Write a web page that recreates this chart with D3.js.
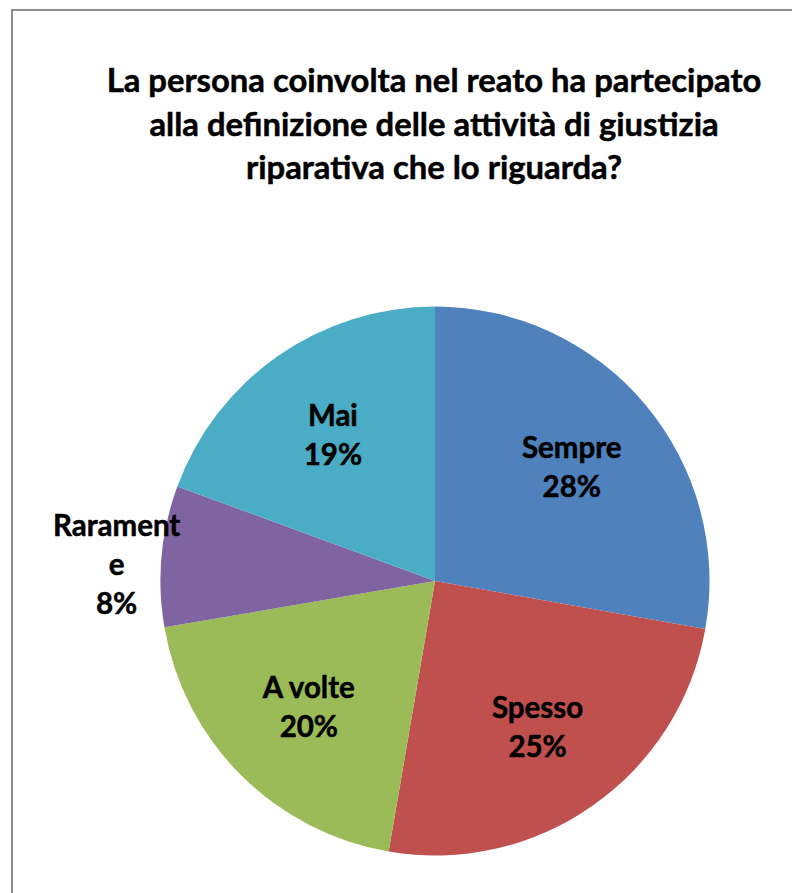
<!DOCTYPE html>
<html>
<head>
<meta charset="utf-8">
<script src="https://cdn.jsdelivr.net/npm/d3@7/dist/d3.min.js"></script>
<style>
  html, body { margin: 0; padding: 0; background: #fff; }
  svg { display: block; }
  text { font-family: Lato, "Open Sans", sans-serif; font-weight: bold; fill: #000; stroke: #000; stroke-width: 0.5px; }
</style>
</head>
<body>
<svg id="chart" width="792" height="893"></svg>
<script>
// Data
const categories = ["Sempre", "Spesso", "A volte", "Raramente", "Mai"];
const values = [27.8, 24.9, 19.6, 8.3, 19.4];
const colors = ["#4F81BD", "#C0504D", "#9BBB59", "#8064A2", "#4BACC6"];
const titleLines = [
  "La persona coinvolta nel reato ha partecipato",
  "alla definizione delle attività di giustizia",
  "riparativa che lo riguarda?"
];
// wrapped label text as displayed
const labelLines = [["Sempre"], ["Spesso"], ["A volte"], ["Rarament", "e"], ["Mai"]];

const svg = d3.select("#chart");
const W = 792, H = 893;

// chart area border (extends beyond the visible window on right/bottom)
svg.append("rect")
  .attr("x", 12).attr("y", 10)
  .attr("width", W + 20).attr("height", H + 20)
  .attr("fill", "#fff")
  .attr("stroke", "#8c8c8c")
  .attr("stroke-width", 2);

// title
const title = svg.append("text")
  .attr("text-anchor", "middle")
  .style("font-size", "32.8px");
titleLines.forEach((t, i) => {
  title.append("tspan").attr("x", 434).attr("y", 92 + i * 43.5).text(t);
});

const cx = 435, cy = 581, R = 274.5;
const g = svg.append("g").attr("transform", `translate(${cx},${cy})`);

const total = d3.sum(values);
const data = categories.map((c, i) => ({ name: c, value: values[i], color: colors[i], lines: labelLines[i] }));

const pie = d3.pie().value(d => d.value).sort(null);
const arcs = pie(data);
const arc = d3.arc().innerRadius(0).outerRadius(R);

g.selectAll("path.slice")
  .data(arcs)
  .enter().append("path")
  .attr("class", "slice")
  .attr("d", arc)
  .attr("fill", d => d.data.color);

// labels
const fs = 29.5, lh = 39;
const inArc = d3.arc().innerRadius(R * 0.65).outerRadius(R * 0.65);

arcs.forEach(a => {
  const share = a.data.value / total;
  const outside = share < 0.1;
  let lx, ly;
  if (outside) {
    // best-fit outside: block placed beside the rim point at the mid angle
    const mid = (a.startAngle + a.endAngle) / 2;
    const ex = R * Math.sin(mid), ey = -R * Math.cos(mid);
    lx = ex + (ex < 0 ? -45 : 45);
    ly = ey + 8;
  } else {
    [lx, ly] = inArc.centroid(a);
  }
  const lines = a.data.lines.concat([Math.round(share * 100) + "%"]);
  const n = lines.length;
  const capH = fs * 0.72;
  const t = g.append("text")
    .attr("text-anchor", "middle")
    .style("font-size", fs + "px");
  lines.forEach((s, i) => {
    t.append("tspan")
      .attr("x", lx)
      .attr("y", ly - (n - 1) * lh / 2 + i * lh + capH / 2)
      .text(s);
  });
});
</script>
</body>
</html>
